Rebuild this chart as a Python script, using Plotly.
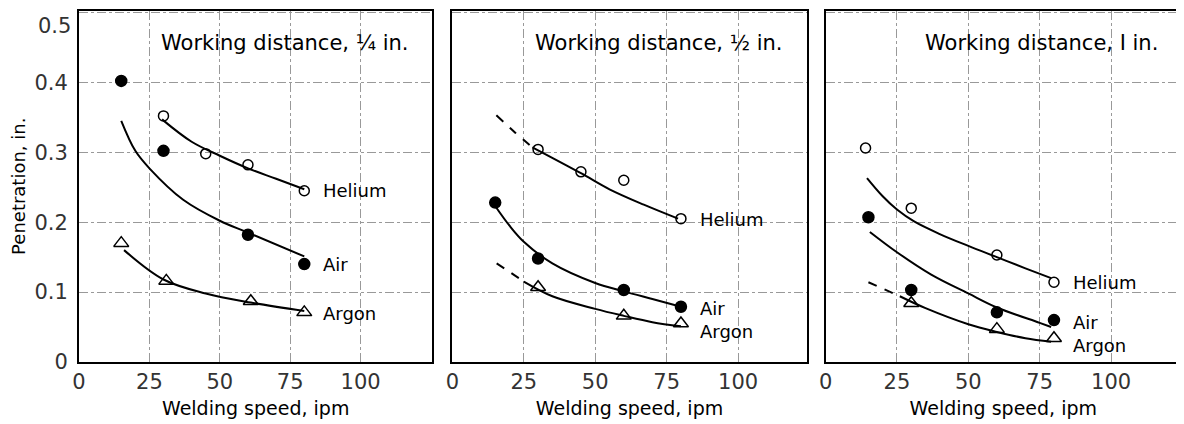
import plotly.graph_objects as go
from plotly.subplots import make_subplots

speed_ticks = [0, 25, 50, 75, 100]
pen_ticks = [0, 0.1, 0.2, 0.3, 0.4]
pen_tick_text = ["0", "0.1", "0.2", "0.3", "0.4"]
top_tick = 0.5
panel_titles = ["Working distance, ¼ in.", "Working distance, ½ in.", "Working distance, I in."]
gas_names = ["Helium", "Air", "Argon"]

# --- working distance 1/4 in. ---
helium_x_1 = [30, 45, 60, 80]
helium_y_1 = [0.352, 0.298, 0.282, 0.245]
air_x_1 = [15, 30, 60, 80]
air_y_1 = [0.402, 0.302, 0.182, 0.140]
argon_x_1 = [15, 31, 61, 80]
argon_y_1 = [0.170, 0.116, 0.087, 0.071]
# faired curves
helium_fit_x_1 = [29.5, 40, 50, 60, 70, 80]
helium_fit_y_1 = [0.347, 0.315, 0.295, 0.277, 0.262, 0.247]
air_fit_x_1 = [15, 20, 25, 37, 50, 60, 80]
air_fit_y_1 = [0.345, 0.302, 0.277, 0.232, 0.202, 0.185, 0.151]
argon_fit_x_1 = [16, 30, 45, 61, 80]
argon_fit_y_1 = [0.16, 0.118, 0.098, 0.085, 0.073]

# --- working distance 1/2 in. ---
helium_x_2 = [30, 45, 60, 80]
helium_y_2 = [0.304, 0.272, 0.260, 0.205]
air_x_2 = [15, 30, 60, 80]
air_y_2 = [0.228, 0.148, 0.103, 0.079]
argon_x_2 = [30, 60, 80]
argon_y_2 = [0.107, 0.066, 0.055]
helium_dash_x_2 = [15.4, 22, 28]
helium_dash_y_2 = [0.353, 0.328, 0.307]
helium_fit_x_2 = [28, 45, 55, 67, 79]
helium_fit_y_2 = [0.307, 0.27, 0.247, 0.225, 0.205]
air_fit_x_2 = [14.5, 20, 25, 35, 50, 60, 70, 80]
air_fit_y_2 = [0.226, 0.195, 0.172, 0.141, 0.113, 0.101, 0.09, 0.079]
argon_dash_x_2 = [15.5, 20, 25]
argon_dash_y_2 = [0.141, 0.129, 0.115]
argon_fit_x_2 = [25, 35, 50, 60, 70, 80]
argon_fit_y_2 = [0.115, 0.094, 0.076, 0.066, 0.057, 0.051]

# --- working distance 1 in. ---
helium_x_3 = [14, 30, 60, 80]
helium_y_3 = [0.306, 0.220, 0.153, 0.114]
air_x_3 = [15, 30, 60, 80]
air_y_3 = [0.207, 0.103, 0.071, 0.060]
argon_x_3 = [30, 60, 80]
argon_y_3 = [0.084, 0.047, 0.034]
helium_fit_x_3 = [14.5, 20, 25, 31, 40, 50, 60, 70, 79]
helium_fit_y_3 = [0.263, 0.237, 0.218, 0.201, 0.183, 0.166, 0.15, 0.134, 0.12]
air_fit_x_3 = [15.5, 25, 37, 50, 60, 75, 79]
air_fit_y_3 = [0.186, 0.157, 0.125, 0.098, 0.078, 0.056, 0.05]
argon_dash_x_3 = [15, 20, 26]
argon_dash_y_3 = [0.114, 0.105, 0.094]
argon_fit_x_3 = [26, 35, 50, 60, 70, 79]
argon_fit_y_3 = [0.094, 0.077, 0.054, 0.043, 0.034, 0.029]

# where the gas names sit
label_x = 86
label_y_1 = [0.246, 0.14, 0.07]
label_y_2 = [0.204, 0.077, 0.043]
label_y_3 = [0.113, 0.057, 0.024]

fig = make_subplots(rows=1, cols=3)

def add_points(x, y, symbol, col, size):
    fig.add_trace(go.Scatter(x=x, y=y, mode="markers", showlegend=False,
                             marker=dict(symbol=symbol, size=size, color="black",
                                         line=dict(color="black", width=1.5))),
                  row=1, col=col)

def add_curve(x, y, col, dash="solid"):
    fig.add_trace(go.Scatter(x=x, y=y, mode="lines", showlegend=False,
                             line=dict(color="black", width=2, shape="spline", dash=dash)),
                  row=1, col=col)

# panel 1
add_curve(helium_fit_x_1, helium_fit_y_1, 1)
add_curve(air_fit_x_1, air_fit_y_1, 1)
add_curve(argon_fit_x_1, argon_fit_y_1, 1)
add_points(helium_x_1, helium_y_1, "circle-open", 1, 10)
add_points(air_x_1, air_y_1, "circle", 1, 11)
add_points(argon_x_1, argon_y_1, "triangle-up-open", 1, 13)

# panel 2
add_curve(helium_dash_x_2, helium_dash_y_2, 2, "dash")
add_curve(helium_fit_x_2, helium_fit_y_2, 2)
add_curve(air_fit_x_2, air_fit_y_2, 2)
add_curve(argon_dash_x_2, argon_dash_y_2, 2, "dash")
add_curve(argon_fit_x_2, argon_fit_y_2, 2)
add_points(helium_x_2, helium_y_2, "circle-open", 2, 10)
add_points(air_x_2, air_y_2, "circle", 2, 11)
add_points(argon_x_2, argon_y_2, "triangle-up-open", 2, 13)

# panel 3
add_curve(helium_fit_x_3, helium_fit_y_3, 3)
add_curve(air_fit_x_3, air_fit_y_3, 3)
add_curve(argon_dash_x_3, argon_dash_y_3, 3, "dash")
add_curve(argon_fit_x_3, argon_fit_y_3, 3)
add_points(helium_x_3, helium_y_3, "circle-open", 3, 10)
add_points(air_x_3, air_y_3, "circle", 3, 11)
add_points(argon_x_3, argon_y_3, "triangle-up-open", 3, 13)

font = dict(family="DejaVu Sans", size=18, color="black")
tick_font = dict(family="DejaVu Sans", size=21, color="#333")
domains = [[0, 0.3207], [0.3388, 0.6603], [0.6775, 1.0]]
x_ranges = [[0, 125.5], [0, 124], [0, 124.5]]
label_ys = [label_y_1, label_y_2, label_y_3]

for i in range(3):
    n = "" if i == 0 else str(i + 1)
    fig.layout["xaxis" + n].update(domain=domains[i], range=x_ranges[i], tickvals=speed_ticks,
                                   showline=True, mirror=True, linecolor="black", linewidth=2,
                                   showgrid=True, gridcolor="#999", griddash="dashdot", gridwidth=1,
                                   zeroline=False, ticks="", tickfont=tick_font,
                                   title=dict(text="Welding speed, ipm",
                                              font=dict(family="DejaVu Sans", size=19, color="black"),
                                              standoff=8))
    fig.layout["yaxis" + n].update(range=[0, 0.502], tickvals=pen_ticks + [top_tick],
                                   ticktext=pen_tick_text + [""],
                                   showline=True, mirror=True, linecolor="black", linewidth=2,
                                   showgrid=True, gridcolor="#999", griddash="dashdot", gridwidth=1,
                                   zeroline=False, ticks="", tickfont=tick_font,
                                   ticklabelstandoff=5, showticklabels=(i == 0))
    fig.add_annotation(text=panel_titles[i], xref="x" + n + " domain", yref="y" + n,
                       x=0.94, y=0.456, xanchor="right", yanchor="middle", showarrow=False,
                       font=dict(family="DejaVu Sans", size=21, color="black"))
    for g in range(3):
        fig.add_annotation(text=gas_names[g], xref="x" + n, yref="y" + n,
                           x=label_x, y=label_ys[i][g], xanchor="left", yanchor="middle",
                           showarrow=False, font=font)

# top tick label would be cut off by the page edge, so it hangs below the gridline
fig.add_annotation(text="0.5", xref="x domain", yref="y", x=0, y=top_tick, xanchor="right",
                   yanchor="top", xshift=-6, showarrow=False, font=tick_font)

fig.add_annotation(text="Penetration, in.", xref="paper", yref="paper", x=-0.055, y=0.5,
                   textangle=-90, showarrow=False, xanchor="center", yanchor="middle",
                   font=dict(family="DejaVu Sans", size=18, color="black"))

# page body has an 8px margin, so the figure is a bit smaller than the window
fig.update_layout(width=1176, height=416, plot_bgcolor="white", paper_bgcolor="white",
                  margin=dict(l=71, r=1, t=2, b=62))
fig.write_html("out.html")
